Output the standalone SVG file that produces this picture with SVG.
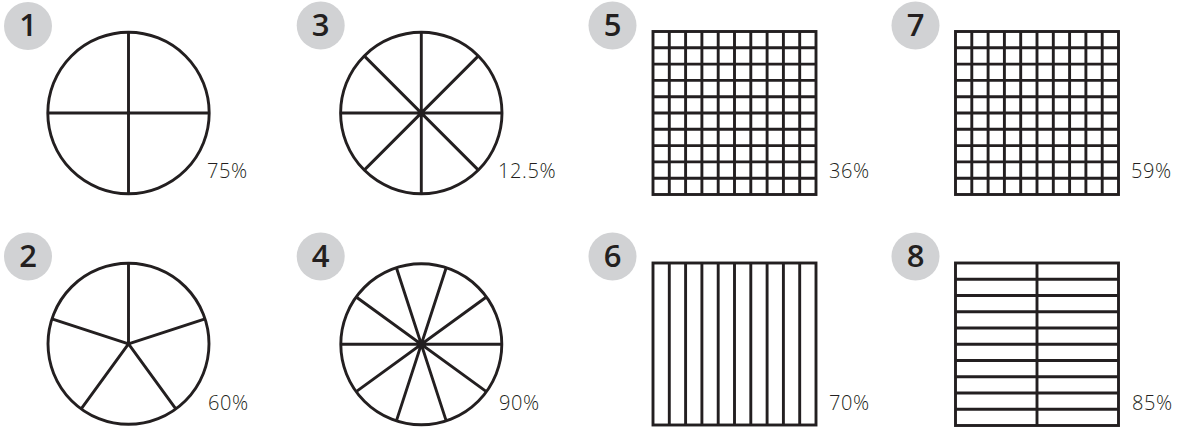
<svg xmlns="http://www.w3.org/2000/svg" xmlns:xlink="http://www.w3.org/1999/xlink" width="1179" height="428" viewBox="0 0 1179 428">
<style>
.badge{fill:#d1d2d4;}
.num{font-family:"Open Sans","Liberation Sans",sans-serif;font-weight:600;font-size:31px;fill:#231f20;text-anchor:middle;}
.pct{font-family:"Open Sans","Liberation Sans",sans-serif;font-weight:300;font-size:20px;letter-spacing:0.6px;fill:#231f20;}
.ln{fill:none;stroke:#231f20;stroke-width:2.9;}
.box{fill:#ffffff;stroke:#231f20;stroke-width:2.9;}
</style>
<defs>
<g id="grid10">
<rect class="box" x="0" y="0" width="163" height="163"/>
<path class="ln" d="M16.3 0V163M32.6 0V163M48.9 0V163M65.2 0V163M81.5 0V163M97.8 0V163M114.1 0V163M130.4 0V163M146.7 0V163M0 16.3H163M0 32.6H163M0 48.9H163M0 65.2H163M0 81.5H163M0 97.8H163M0 114.1H163M0 130.4H163M0 146.7H163"/>
</g>
</defs>
<rect x="0" y="0" width="1179" height="428" fill="#ffffff"/>

<g id="item1">
<circle class="badge" cx="28" cy="26" r="24"/>
<text class="num" x="28" y="36">1</text>
<circle class="box" cx="128.5" cy="113" r="80.7"/>
<path class="ln" d="M128.5 32.3V193.7M47.8 113H209.2"/>
<text class="pct" x="207" y="178">75%</text>
</g>

<g id="item2">
<circle class="badge" cx="28" cy="256.5" r="24"/>
<text class="num" x="28" y="266.5">2</text>
<circle class="box" cx="128.5" cy="343.8" r="80.5"/>
<path class="ln" d="M128.5 343.8V263.3M128.5 343.8L205.1 318.9M128.5 343.8L175.8 408.9M128.5 343.8L81.2 408.9M128.5 343.8L51.9 318.9"/>
<text class="pct" x="208" y="410">60%</text>
</g>

<g id="item3">
<circle class="badge" cx="320.7" cy="25.5" r="24"/>
<text class="num" x="320.7" y="35.5">3</text>
<circle class="box" cx="421.3" cy="113" r="80.7"/>
<path class="ln" d="M421.3 32.3V193.7M340.6 113H502M364.2 55.9L478.4 170.1M478.4 55.9L364.2 170.1"/>
<text class="pct" x="498" y="178">12.5%</text>
</g>

<g id="item4">
<circle class="badge" cx="320.7" cy="256.5" r="24"/>
<text class="num" x="320.7" y="266.5">4</text>
<circle class="box" cx="421.3" cy="344.3" r="80.5"/>
<path class="ln" d="M446.2 267.7L396.4 420.9M486.4 297L356.2 391.6M340.8 344.3H501.8M486.4 391.6L356.2 297M446.2 420.9L396.4 267.7"/>
<text class="pct" x="499" y="410">90%</text>
</g>

<g id="item5">
<circle class="badge" cx="612.5" cy="25.5" r="24"/>
<text class="num" x="612.5" y="35.5">5</text>
<use xlink:href="#grid10" href="#grid10" x="653" y="31.5"/>
<text class="pct" x="829" y="178">36%</text>
</g>

<g id="item6">
<circle class="badge" cx="612.5" cy="256.5" r="24"/>
<text class="num" x="612.5" y="266.5">6</text>
<rect class="box" x="653" y="263" width="163" height="162"/>
<path class="ln" d="M669.3 263V425M685.6 263V425M701.9 263V425M718.2 263V425M734.5 263V425M750.8 263V425M767.1 263V425M783.4 263V425M799.7 263V425"/>
<text class="pct" x="829" y="410">70%</text>
</g>

<g id="item7">
<circle class="badge" cx="915.5" cy="25.5" r="24"/>
<text class="num" x="915.5" y="35.5">7</text>
<use xlink:href="#grid10" href="#grid10" x="955.5" y="31.5"/>
<text class="pct" x="1131" y="178">59%</text>
</g>

<g id="item8">
<circle class="badge" cx="915.5" cy="256.5" r="24"/>
<text class="num" x="915.5" y="266.5">8</text>
<rect class="box" x="955.5" y="263" width="163" height="162.5"/>
<path class="ln" d="M1037 263V425.5M955.5 279.25H1118.5M955.5 295.5H1118.5M955.5 311.75H1118.5M955.5 328H1118.5M955.5 344.25H1118.5M955.5 360.5H1118.5M955.5 376.75H1118.5M955.5 393H1118.5M955.5 409.25H1118.5"/>
<text class="pct" x="1132" y="410">85%</text>
</g>
</svg>
